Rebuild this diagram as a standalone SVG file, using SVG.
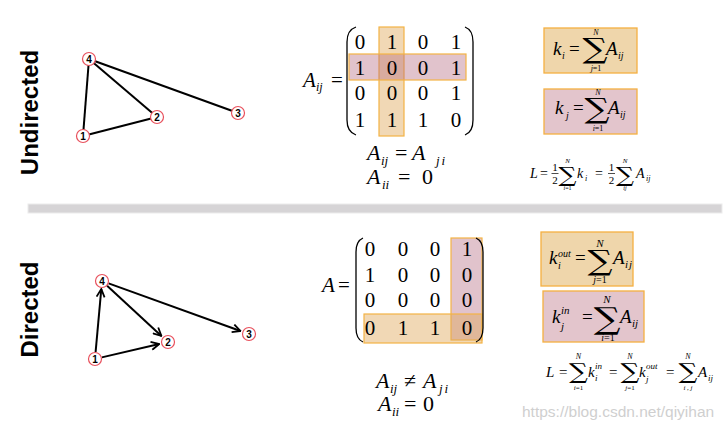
<svg xmlns="http://www.w3.org/2000/svg" width="725" height="432" viewBox="0 0 725 432">
<style>
.lbl{font-family:"Liberation Sans",Arial,sans-serif;font-weight:bold;font-size:24px;fill:#000}
.nd circle{fill:#fff;stroke:#e8505c;stroke-width:1.2}
.nd text{font-family:"Liberation Sans",Arial,sans-serif;font-weight:bold;font-size:10px;text-anchor:middle;fill:#000}
.e{stroke:#000;stroke-width:2;fill:none}
.m{font-family:"Liberation Serif","DejaVu Serif",serif;fill:#000}
.s{font-family:"DejaVu Serif","Liberation Serif",serif;fill:#000;text-anchor:middle}
.it{font-style:italic}
.c{text-anchor:middle}
.par{fill:none;stroke:#000;stroke-width:1.3}
.bo{fill:#dfa85a;fill-opacity:0.45;stroke:#f3b345;stroke-width:1.2}
.bp{fill:#b56a80;fill-opacity:0.4;stroke:#f3b345;stroke-width:1.2}
.boxo{fill:#efd6ab;stroke:#f5b041;stroke-width:1.3}
.boxp{fill:#e3c5cc;stroke:#f5b041;stroke-width:1.3}
</style>
<defs>
<marker id="arr" viewBox="0 0 10 10" refX="9" refY="5" markerWidth="10" markerHeight="10" markerUnits="userSpaceOnUse" orient="auto">
<path d="M1,1 L9,5 L1,9" fill="none" stroke="#000" stroke-width="1.8"/>
</marker>
</defs>
<rect width="725" height="432" fill="#fff"/>

<text class="lbl" transform="translate(38,112.5) rotate(-90)" text-anchor="middle">Undirected</text>
<text class="lbl" transform="translate(38,309.5) rotate(-90)" text-anchor="middle">Directed</text>

<rect x="28" y="204" width="694" height="9" fill="#d6d4d6" stroke="#ececec" stroke-width="1"/>

<g id="connectors">
<line class="e" x1="89" y1="59" x2="83" y2="136"/>
<line class="e" x1="89" y1="59" x2="157" y2="117"/>
<line class="e" x1="89" y1="59" x2="238" y2="113"/>
<line class="e" x1="83" y1="136" x2="157" y2="117"/>
<line class="e" x1="95.6" y1="352" x2="101.3" y2="289" marker-end="url(#arr)"/>
<line class="e" x1="107.1" y1="285.8" x2="161.4" y2="335.9" marker-end="url(#arr)"/>
<line class="e" x1="108.6" y1="283.4" x2="240.5" y2="331" marker-end="url(#arr)"/>
<line class="e" x1="101.8" y1="357.4" x2="159.2" y2="344" marker-end="url(#arr)"/>
</g>

<g id="u4" class="nd"><circle cx="89" cy="59" r="6.5"/><text x="89" y="62.5">4</text></g>
<g id="u1" class="nd"><circle cx="83" cy="136" r="6.5"/><text x="83" y="139.5">1</text></g>
<g id="u2" class="nd"><circle cx="157" cy="117" r="6.5"/><text x="157" y="120.5">2</text></g>
<g id="u3" class="nd"><circle cx="238" cy="113" r="6.5"/><text x="238" y="116.5">3</text></g>

<g id="d4" class="nd"><circle cx="102" cy="281" r="6.5"/><text x="102" y="284.5">4</text></g>
<g id="d1" class="nd"><circle cx="95" cy="359" r="6.5"/><text x="95" y="362.5">1</text></g>
<g id="d2" class="nd"><circle cx="168" cy="342" r="6.5"/><text x="168" y="345.5">2</text></g>
<g id="d3" class="nd"><circle cx="249" cy="334" r="6.5"/><text x="249" y="337.5">3</text></g>

<g id="umatrix">
<rect class="bo" x="379" y="27" width="25" height="109"/>
<rect class="bp" x="349" y="54" width="117" height="26"/>
<text class="m it" x="303" y="87" font-size="21">A</text>
<text class="m it" x="316" y="91" font-size="12">ij</text>
<text class="m" x="331" y="87" font-size="21">=</text>
<path class="par" d="M356,27 Q347,30 347,42 L347,120 Q347,132 356,135"/>
<path class="par" d="M465,27 Q473,30 473,42 L473,120 Q473,132 465,135"/>
<g class="m c" font-size="21">
<text x="360" y="49">0</text><text x="392" y="49">1</text><text x="423" y="49">0</text><text x="456" y="49">1</text>
<text x="360" y="75">1</text><text x="392" y="75">0</text><text x="423" y="75">0</text><text x="456" y="75">1</text>
<text x="360" y="100">0</text><text x="392" y="100">0</text><text x="423" y="100">0</text><text x="456" y="100">1</text>
<text x="360" y="127">1</text><text x="392" y="127">1</text><text x="423" y="127">1</text><text x="456" y="127">0</text>
</g>
<text class="m it" x="367" y="160" font-size="22">A</text>
<text class="m it" x="381" y="165" font-size="13">ij</text>
<text class="m" x="395" y="160" font-size="22">=</text>
<text class="m it" x="412" y="160" font-size="22">A</text>
<text class="m it" x="436" y="165" font-size="13" letter-spacing="2">ji</text>
<text class="m it" x="367" y="184" font-size="22">A</text>
<text class="m it" x="382" y="189" font-size="13">ii</text>
<text class="m" x="398" y="184" font-size="22">=</text>
<text class="m" x="422" y="184" font-size="22">0</text>
</g>

<g id="ubox1">
<rect class="boxo" x="544" y="28" width="93" height="45"/>
<text class="m it" x="553" y="55" font-size="19">k</text>
<text class="m it" x="562" y="59" font-size="10">i</text>
<text class="m" x="569" y="55" font-size="19">=</text>
<text class="s" transform="translate(595,58) scale(1.25,1)" font-size="28">∑</text>
<text class="m it c" x="596" y="35" font-size="8">N</text>
<text class="m c" x="596" y="71" font-size="8"><tspan class="it">j</tspan>=1</text>
<text class="m it" x="606" y="55" font-size="19">A</text>
<text class="m it" x="618" y="59" font-size="10">ij</text>
</g>
<g id="ubox2">
<rect class="boxp" x="544" y="89" width="93" height="45"/>
<text class="m it" x="555" y="114" font-size="19">k</text>
<text class="m it" x="566" y="119" font-size="10">j</text>
<text class="m" x="573" y="114" font-size="19">=</text>
<text class="s" transform="translate(597,118) scale(1.25,1)" font-size="28">∑</text>
<text class="m it c" x="598" y="95" font-size="8">N</text>
<text class="m c" x="598" y="131" font-size="8"><tspan class="it">i</tspan>=1</text>
<text class="m it" x="608" y="114" font-size="19">A</text>
<text class="m it" x="620" y="118" font-size="10">ij</text>
</g>
<g id="uL">
<text class="m it" x="530" y="178" font-size="14">L</text>
<text class="m" x="540" y="178" font-size="14">=</text>
<text class="m c" x="555" y="171" font-size="11">1</text>
<line x1="551.5" y1="173.5" x2="558.5" y2="173.5" stroke="#000" stroke-width="0.7"/>
<text class="m c" x="555" y="184" font-size="11">2</text>
<text class="s" transform="translate(567.5,182) scale(1.2,1)" font-size="21">∑</text>
<text class="m it c" x="567.5" y="163" font-size="7">N</text>
<text class="m c" x="567.5" y="190" font-size="6"><tspan class="it">i</tspan>=1</text>
<text class="m it" x="577" y="178" font-size="14">k</text>
<text class="m it" x="585" y="181" font-size="8">i</text>
<text class="m" x="595" y="178" font-size="14">=</text>
<text class="m c" x="611.5" y="171" font-size="11">1</text>
<line x1="608" y1="173.5" x2="615" y2="173.5" stroke="#000" stroke-width="0.7"/>
<text class="m c" x="611.5" y="184" font-size="11">2</text>
<text class="s" transform="translate(625,182) scale(1.2,1)" font-size="21">∑</text>
<text class="m it c" x="625" y="163" font-size="7">N</text>
<text class="m it c" x="625" y="190" font-size="6">ij</text>
<text class="m it" x="636" y="178" font-size="14">A</text>
<text class="m it" x="646" y="181" font-size="8">ij</text>
</g>

<g id="dmatrix">
<rect class="bp" x="451" y="238" width="31" height="102"/>
<rect class="bo" x="364" y="314" width="118" height="29"/>
<text class="m it" x="322" y="292" font-size="21">A</text>
<text class="m" x="338" y="292" font-size="21">=</text>
<path class="par" d="M363,238 Q356,241 356,252 L356,328 Q356,339 363,342"/>
<path class="par" d="M476,238 Q483,241 483,252 L483,328 Q483,339 476,342"/>
<g class="m c" font-size="21">
<text x="370" y="256">0</text><text x="403" y="256">0</text><text x="435" y="256">0</text><text x="467" y="256">1</text>
<text x="370" y="282">1</text><text x="403" y="282">0</text><text x="435" y="282">0</text><text x="467" y="282">0</text>
<text x="370" y="307">0</text><text x="403" y="307">0</text><text x="435" y="307">0</text><text x="467" y="307">0</text>
<text x="370" y="335">0</text><text x="403" y="335">1</text><text x="435" y="335">1</text><text x="467" y="335">0</text>
</g>
<text class="m it" x="376" y="388" font-size="22">A</text>
<text class="m it" x="390" y="393" font-size="13">ij</text>
<text class="m" x="404" y="388" font-size="22">≠</text>
<text class="m it" x="423" y="388" font-size="22">A</text>
<text class="m it" x="439" y="393" font-size="13" letter-spacing="2">ji</text>
<text class="m it" x="378" y="411" font-size="22">A</text>
<text class="m it" x="392" y="416" font-size="13">ii</text>
<text class="m" x="404" y="411" font-size="22">=</text>
<text class="m" x="423" y="411" font-size="22">0</text>
</g>

<g id="dbox1">
<rect class="boxo" x="541" y="232" width="92" height="54"/>
<text class="m it" x="549" y="264" font-size="19">k</text>
<text class="m it" x="558" y="257" font-size="10">out</text>
<text class="m it" x="558" y="269" font-size="10">i</text>
<text class="m" x="575" y="264" font-size="19">=</text>
<text class="s" transform="translate(600,270) scale(1.25,1)" font-size="28">∑</text>
<text class="m it c" x="600" y="247" font-size="11">N</text>
<text class="m c" x="600" y="283" font-size="10"><tspan class="it">j</tspan>=1</text>
<text class="m it" x="613" y="264" font-size="19">A</text>
<text class="m it" x="625" y="268" font-size="11" letter-spacing="1">ij</text>
</g>
<g id="dbox2">
<rect class="boxp" x="543" y="291" width="101" height="51"/>
<text class="m it" x="552" y="323" font-size="19">k</text>
<text class="m it" x="561" y="314" font-size="11">in</text>
<text class="m it" x="561" y="330" font-size="11">j</text>
<text class="m" x="582" y="323" font-size="19">=</text>
<text class="s" transform="translate(607,329) scale(1.25,1)" font-size="30">∑</text>
<text class="m it c" x="607" y="303" font-size="11">N</text>
<text class="m c" x="608" y="341" font-size="10"><tspan class="it">i</tspan>=1</text>
<text class="m it" x="620" y="323" font-size="19">A</text>
<text class="m it" x="632" y="327" font-size="11">ij</text>
</g>
<g id="dL">
<text class="m it" x="546" y="377" font-size="15">L</text>
<text class="m" x="559" y="377" font-size="15">=</text>
<text class="s" transform="translate(578.5,379) scale(1.2,1)" font-size="22">∑</text>
<text class="m it c" x="578.5" y="359" font-size="8">N</text>
<text class="m c" x="578.5" y="390" font-size="7"><tspan class="it">i</tspan>=1</text>
<text class="m it" x="588" y="377" font-size="15">k</text>
<text class="m it" x="595" y="369" font-size="9">in</text>
<text class="m it" x="595" y="381" font-size="9">i</text>
<text class="m" x="609" y="377" font-size="15">=</text>
<text class="s" transform="translate(630,379) scale(1.2,1)" font-size="22">∑</text>
<text class="m it c" x="630" y="359" font-size="8">N</text>
<text class="m c" x="630" y="390" font-size="7"><tspan class="it">j</tspan>=1</text>
<text class="m it" x="639" y="377" font-size="15">k</text>
<text class="m it" x="646" y="369" font-size="9">out</text>
<text class="m it" x="646" y="382" font-size="9">j</text>
<text class="m" x="666" y="377" font-size="15">=</text>
<text class="s" transform="translate(688,379) scale(1.2,1)" font-size="22">∑</text>
<text class="m it c" x="688" y="359" font-size="8">N</text>
<text class="m it c" x="688" y="390" font-size="7">i , j</text>
<text class="m it" x="698" y="377" font-size="15">A</text>
<text class="m it" x="708" y="381" font-size="9">ij</text>
</g>

<text x="522" y="417" font-family="Liberation Sans,Arial,sans-serif" font-size="15.5" fill="#cfcfcf">https://blog.csdn.net/qiyihan</text>
</svg>
